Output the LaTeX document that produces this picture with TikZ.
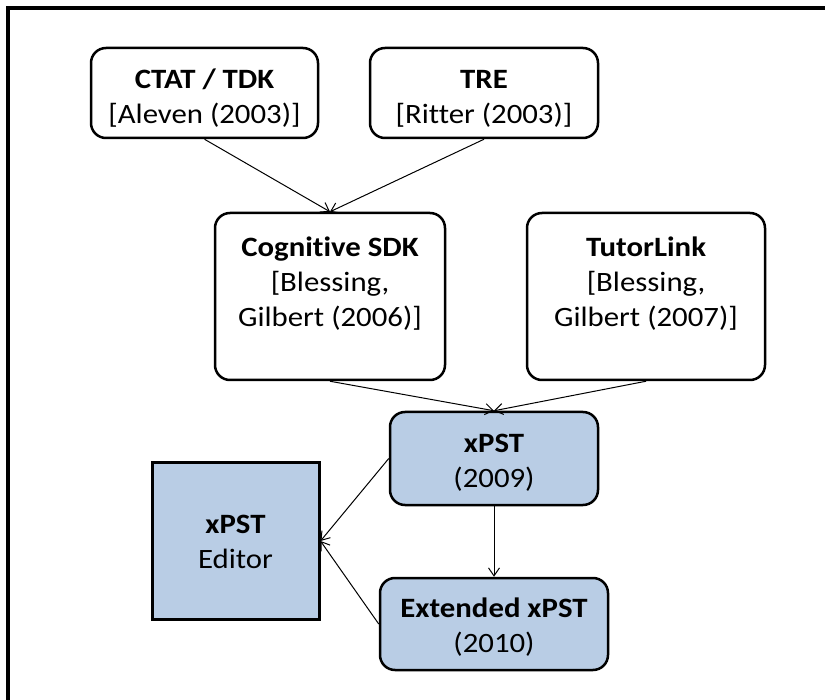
\documentclass[tikz,border=0pt]{standalone}
\usepackage{fontspec}
\setmainfont[FakeStretch=1.1,Ligatures=CommonOff]{Carlito}
\usetikzlibrary{arrows.meta}
\definecolor{boxblue}{HTML}{B9CDE5}
\newcommand\padT[1]{\rule{0pt}{#1pt}}
\newcommand\padB[1]{\rule[-#1pt]{0pt}{#1pt}}
\begin{document}
\begin{tikzpicture}[x=1pt,y=-1pt,
  every node/.style={font=\fontsize{28}{35}\selectfont, align=center, inner sep=0pt},
  rbox/.style={draw=black, line width=2.5pt, rounded corners=15pt},
  wbox/.style={rbox, fill=white},
  bbox/.style={rbox, fill=boxblue},
  conn/.style={line width=1pt, -{Straight Barb[length=8pt,width=11pt,line width=1pt]}}
]
\path[use as bounding box, clip] (0,0) rectangle (825,700);
\draw[line width=4pt] (8,720) -- (8,8) -- (840,8);

\node[wbox, minimum width=227pt, minimum height=90pt] (ctat) at (204.5,93)
  {\padT{37}\textbf{CTAT / TDK}\\{}[Aleven (2003)]\padB{10}};
\node[wbox, minimum width=228pt, minimum height=90pt] (tre) at (484,93)
  {\padT{37}\textbf{TRE}\\{}[Ritter (2003)]\padB{10}};
\node[wbox, minimum width=230pt, minimum height=167pt] (cog) at (330,296.5)
  {\padT{22.4}\textbf{Cognitive SDK}\\{}[Blessing,\\Gilbert (2006)]\padB{32}};
\node[wbox, minimum width=238pt, minimum height=167pt] (tutor) at (646,296.5)
  {\padT{22.4}\textbf{TutorLink}\\{}[Blessing,\\Gilbert (2007)]\padB{32}};
\node[bbox, minimum width=208pt, minimum height=93pt] (xpst) at (494,458.5)
  {\padT{32}\textbf{xPST}\\(2009)\padB{10}};
\node[bbox, minimum width=228pt, minimum height=92pt] (ext) at (494,624)
  {\padT{31}\textbf{Extended xPST}\\(2010)\padB{10}};
\node[draw=black, line width=3pt, fill=boxblue, minimum width=167pt, minimum height=156pt] (editor) at (235.5,541)
  {\padT{29}\textbf{xPST}\\Editor\padB{10}};

\draw[conn] (ctat.south) -- (cog.north);
\draw[conn] (tre.south) -- (cog.north);
\draw[conn] (cog.south) -- (xpst.north);
\draw[conn] (tutor.south) -- (xpst.north);
\draw[conn] (xpst.west) -- (editor.east);
\draw[conn] (ext.west) -- (editor.east);
\draw[conn] (xpst.south) -- (ext.north);
\end{tikzpicture}
\end{document}
